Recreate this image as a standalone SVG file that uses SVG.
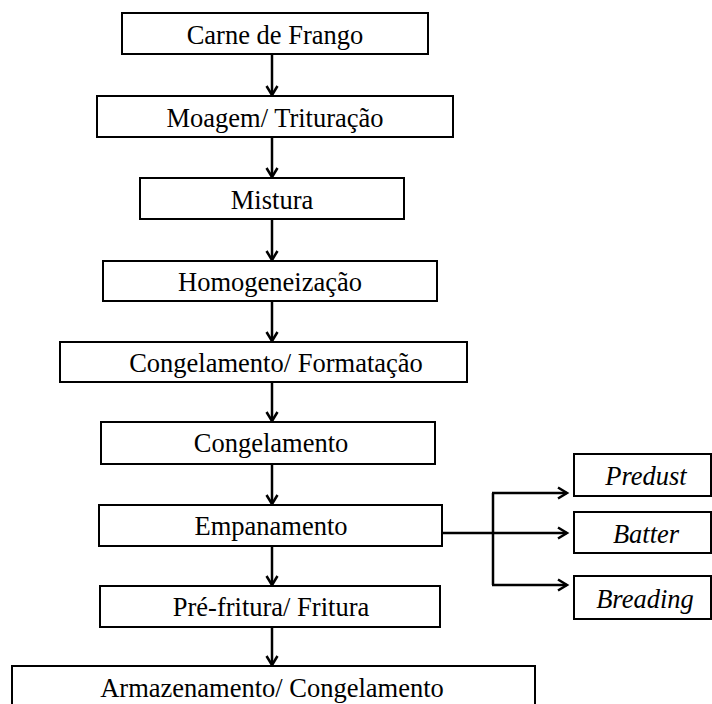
<svg xmlns="http://www.w3.org/2000/svg" width="712" height="704" viewBox="0 0 712 704">
<defs>
<marker id="ah" markerWidth="14" markerHeight="14" refX="11" refY="7" orient="auto" markerUnits="userSpaceOnUse">
<path d="M2,1.5 L11,7 L2,12.5" fill="none" stroke="#000" stroke-width="2.5"/>
</marker>
<style>
.box{fill:#fff;stroke:#000;stroke-width:2}
.t{font-family:"Liberation Serif","Times New Roman",serif;font-size:26.5px;text-anchor:middle;fill:#000}
.i{font-style:italic}
.c{fill:none;stroke:#000;stroke-width:2.5}
</style>
</defs>
<rect width="712" height="704" fill="#fff"/>
<g id="connectors">
<line class="c" x1="272" y1="55" x2="272" y2="95" marker-end="url(#ah)"/>
<line class="c" x1="272" y1="138" x2="272" y2="177" marker-end="url(#ah)"/>
<line class="c" x1="272" y1="220" x2="272" y2="260" marker-end="url(#ah)"/>
<line class="c" x1="272" y1="302" x2="272" y2="341" marker-end="url(#ah)"/>
<line class="c" x1="272" y1="383" x2="272" y2="421" marker-end="url(#ah)"/>
<line class="c" x1="272" y1="465" x2="272" y2="504" marker-end="url(#ah)"/>
<line class="c" x1="272" y1="547" x2="272" y2="585" marker-end="url(#ah)"/>
<line class="c" x1="272" y1="628" x2="272" y2="665" marker-end="url(#ah)"/>
<line class="c" x1="442" y1="533" x2="567" y2="533" marker-end="url(#ah)"/>
<line class="c" x1="493" y1="493" x2="493" y2="585"/>
<line class="c" x1="492" y1="493" x2="567" y2="493" marker-end="url(#ah)"/>
<line class="c" x1="492" y1="585" x2="567" y2="585" marker-end="url(#ah)"/>
</g>
<g id="n1"><rect class="box" x="122" y="13" width="306" height="41"/><text class="t" x="275" y="44">Carne de Frango</text></g>
<g id="n2"><rect class="box" x="97" y="96" width="356" height="41"/><text class="t" x="275" y="127">Moagem/ Trituração</text></g>
<g id="n3"><rect class="box" x="140" y="178" width="264" height="41"/><text class="t" x="272" y="209">Mistura</text></g>
<g id="n4"><rect class="box" x="103" y="261" width="334" height="40"/><text class="t" x="270" y="291">Homogeneização</text></g>
<g id="n5"><rect class="box" x="60" y="342" width="407" height="40"/><text class="t" x="276" y="372">Congelamento/ Formatação</text></g>
<g id="n6"><rect class="box" x="101" y="422" width="334" height="42"/><text class="t" x="271" y="452">Congelamento</text></g>
<g id="n7"><rect class="box" x="99" y="505" width="343" height="41"/><text class="t" x="271" y="535">Empanamento</text></g>
<g id="n8"><rect class="box" x="100" y="586" width="340" height="41"/><text class="t" x="271" y="616">Pré-fritura/ Fritura</text></g>
<g id="n9"><rect class="box" x="12" y="666" width="523" height="44"/><text class="t" x="272" y="697">Armazenamento/ Congelamento</text></g>
<g id="p1"><rect class="box" x="574" y="454" width="137" height="42"/><text class="t i" x="646" y="485">Predust</text></g>
<g id="p2"><rect class="box" x="574" y="512" width="137" height="41"/><text class="t i" x="646" y="543">Batter</text></g>
<g id="p3"><rect class="box" x="574" y="576" width="137" height="43"/><text class="t i" x="645" y="608">Breading</text></g>
</svg>
